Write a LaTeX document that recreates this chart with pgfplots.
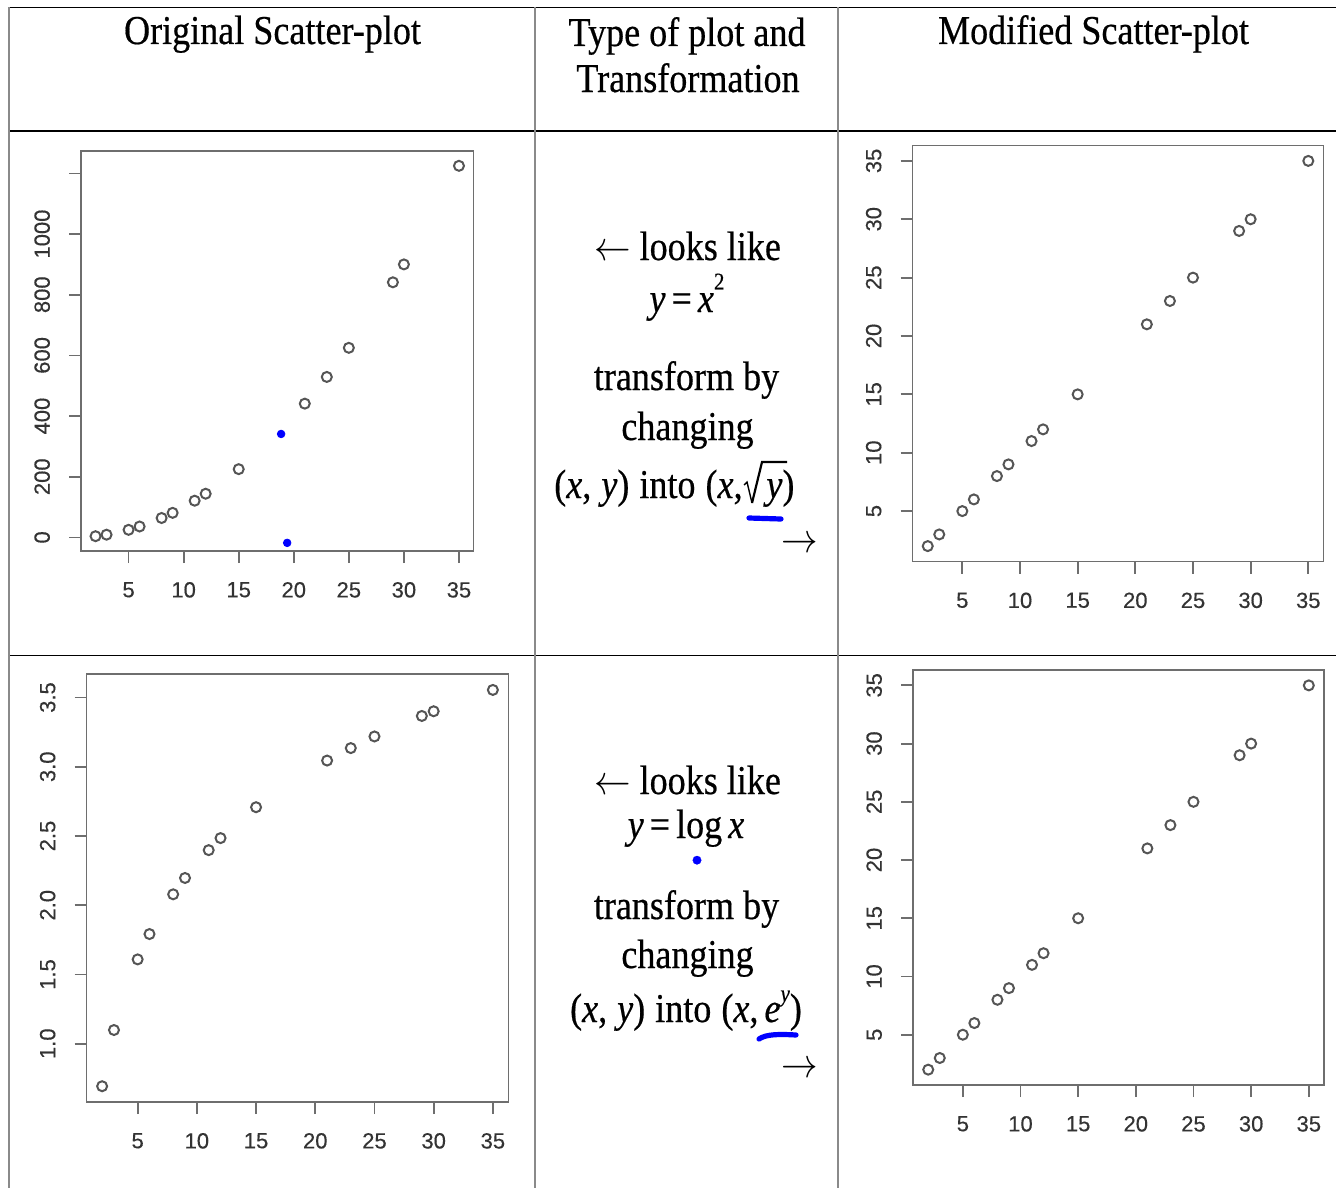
\documentclass[border=0pt]{standalone}
\usepackage{pgfplots}
\pgfplotsset{compat=1.18}
\usepackage{fontspec}
\setmainfont{Liberation Serif}[FakeBold=0.5]
\setsansfont{Liberation Sans}[FakeBold=0.4]
\definecolor{rgray}{HTML}{6E6E6E}
\definecolor{mgray}{HTML}{555555}
\definecolor{tgray}{HTML}{333333}
\definecolor{vline}{HTML}{8A8A8A}
\newcommand{\T}[1]{\scalebox{0.88}[1]{\fontsize{20.5}{24}\selectfont #1}}
\pgfplotsset{
  rplot/.style={
    scale only axis,
    axis line style={rgray, line width=0.9pt},
    tick style={rgray, line width=0.9pt},
    tick align=outside,
    major tick length=6pt,
    xtick pos=bottom, ytick pos=left,
    xmin=0.68, xmax=36.32,
    xtick={5,10,15,20,25,30,35},
    xticklabels={5,10,15,20,25,30,35},
    tick label style={font=\fontsize{11}{13}\selectfont\sffamily, text=tgray},
    yticklabel style={rotate=90, anchor=south},
    xticklabel style={anchor=north},
    xticklabel shift=6pt,
    yticklabel shift=6pt,
    clip=false,
  },
  rmark/.style={only marks, mark=o, mark size=2.5pt, mark options={mgray, line width=1pt}},
}
\begin{document}
\begin{tikzpicture}
\useasboundingbox (0,0) rectangle (668pt,-594pt);
\begin{scope}[x=0.5pt,y=-0.5pt]
% table lines
\draw[black, line width=0.8pt] (9,7.5) -- (1336,7.5);
\draw[black, line width=0.8pt] (9,131) -- (1336,131);
\draw[black, line width=0.8pt] (9,655.5) -- (1336,655.5);
\draw[vline, line width=1.4pt] (9,7.5) -- (9,1188);
\draw[vline, line width=1.4pt] (535,7.5) -- (535,1188);
\draw[vline, line width=1.4pt] (838,7.5) -- (838,1188);
% headers
\node[anchor=base] at (272.5,44) {\T{Original Scatter-plot}};
\node[anchor=base] at (687,46) {\T{Type of plot and}};
\node[anchor=base] at (688,92) {\T{Transformation}};
\node[anchor=base] at (1093.5,44) {\T{Modified Scatter-plot}};
% middle text top
\node[anchor=base] at (687.5,260) {\T{$\leftarrow$ looks like}};
\node[anchor=base] at (687,312) {\T{\textit{y}\,=\,\textit{x}\raisebox{0.55em}{\fontsize{12}{12}\selectfont 2}}};
\node[anchor=base] at (686.5,390) {\T{transform by}};
\node[anchor=base] at (687.5,440) {\T{changing}};
\node[anchor=base east, inner sep=0pt] at (743,498) {\T{(\textit{x},\;\textit{y})\;into\;(\textit{x},}};
\node[anchor=base west, inner sep=0pt] at (766,498) {\T{\textit{y})}};
% radical sign
\draw[black, line width=0.7pt, line join=miter] (744,485) -- (747,482) -- (752,503);
\draw[black, line width=1.1pt, line join=miter] (752,503) -- (762,462) -- (787,462);
\draw[blue, line width=2.6pt, line cap=round] (749,518) -- (781,519);
\node at (800,545) {\T{$\rightarrow$}};
% middle text bottom
\node[anchor=base] at (687.5,794) {\T{$\leftarrow$ looks like}};
\node[anchor=base] at (686,838) {\T{\textit{y}\,=\,log\,\textit{x}}};
\node[text=blue, inner sep=0pt] at (697,864) {\fontsize{18}{18}\selectfont\textbullet};
\node[anchor=base] at (686.5,919) {\T{transform by}};
\node[anchor=base] at (687.5,968) {\T{changing}};
\node[anchor=base] at (686,1022) {\T{(\textit{x},\;\textit{y})\;into\;(\textit{x},\,\textit{e}\raisebox{0.5em}{\fontsize{12}{12}\selectfont\textit{y}})}};
\draw[blue, line width=2.6pt, line cap=round] (759,1039) .. controls (766,1034) and (780,1034) .. (796,1035);
\node at (800,1070) {\T{$\rightarrow$}};
\end{scope}

% top-left: y = x^2
\begin{axis}[rplot, at={(40.5pt,-275.5pt)}, anchor=south west,
  width=196.25pt, height=200pt,
  ymin=-44.84, ymax=1273.84,
  ytick={0,200,400,600,800,1000,1200},
  yticklabels={0,200,400,600,800,1000,{}}]
\addplot[rmark] coordinates {(2,4)(3,9)(5,25)(6,36)(8,64)(9,81)(11,121)(12,144)(15,225)(21,441)(23,529)(25,625)(29,841)(30,900)(35,1225)};
\addplot[only marks, mark=*, mark size=1.9pt, mark options={blue, draw=blue}] coordinates {(18.85,341)(19.4,-18)};
\end{axis}

% bottom-left: y = log x
\begin{axis}[rplot, at={(43.25pt,-551pt)}, anchor=south west,
  width=211pt, height=214pt,
  ymin=0.579, ymax=3.670,
  ytick={1,1.5,2,2.5,3,3.5},
  yticklabels={1.0,1.5,2.0,2.5,3.0,3.5}]
\addplot[rmark] coordinates {(2,0.693)(3,1.099)(5,1.609)(6,1.792)(8,2.079)(9,2.197)(11,2.398)(12,2.485)(15,2.708)(21,3.045)(23,3.135)(25,3.219)(29,3.367)(30,3.401)(35,3.555)};
\end{axis}

% top-right: sqrt transform
\begin{axis}[rplot, at={(456.25pt,-280.75pt)}, anchor=south west,
  width=205.5pt, height=208pt,
  ymin=0.68, ymax=36.32,
  ytick={5,10,15,20,25,30,35},
  yticklabels={5,10,15,20,25,30,35}]
\addplot[rmark] coordinates {(2,2)(3,3)(5,5)(6,6)(8,8)(9,9)(11,11)(12,12)(15,15)(21,21)(23,23)(25,25)(29,29)(30,30)(35,35)};
\end{axis}

% bottom-right: exp transform
\begin{axis}[rplot, at={(456.5pt,-542.5pt)}, anchor=south west,
  width=205.5pt, height=207.5pt,
  ymin=0.68, ymax=36.32,
  ytick={5,10,15,20,25,30,35},
  yticklabels={5,10,15,20,25,30,35}]
\addplot[rmark] coordinates {(2,2)(3,3)(5,5)(6,6)(8,8)(9,9)(11,11)(12,12)(15,15)(21,21)(23,23)(25,25)(29,29)(30,30)(35,35)};
\end{axis}
\end{tikzpicture}
\end{document}
